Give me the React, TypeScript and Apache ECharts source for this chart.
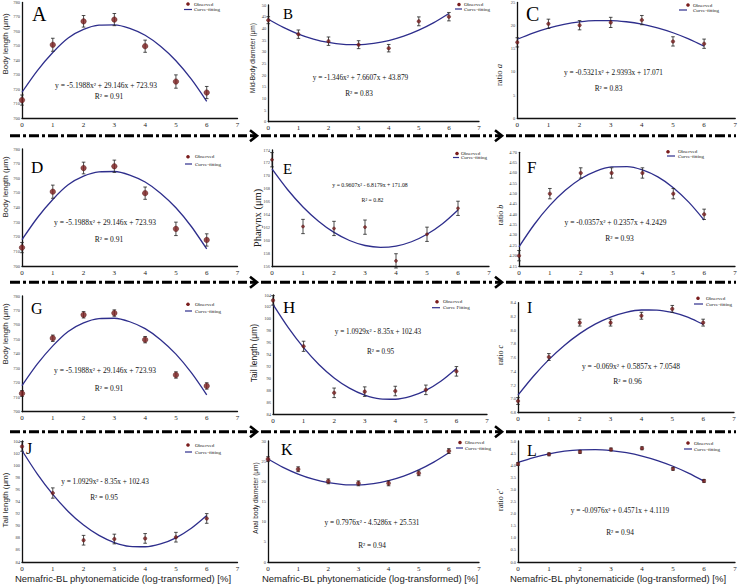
import React, { useEffect, useRef } from "react";
import * as echarts from "echarts";

// ---------- data ----------
const xValues = [0, 1, 2, 3, 4, 5, 6];
const xFit = [0, 0.5, 1, 1.5, 2, 2.5, 3, 3.5, 4, 4.5, 5, 5.5, 6];
const xTicks = [0, 1, 2, 3, 4, 5, 6, 7];

const bodyLengthTicks = [700, 710, 720, 730, 740, 750, 760, 770, 780];
const bodyLengthObs = [712.6, 750.8, 767.0, 768.2, 749.8, 725.4, 717.8];
const bodyLengthErr = [3.5, 4.5, 4.0, 4.2, 4.2, 4.6, 4.2];
const bodyLengthErrSmall = [2.0, 2.2, 2.2, 2.2, 2.2, 2.2, 2.2];
const bodyLengthFit = [718, 733, 745.5, 755.5, 761.4, 764.3, 764.6, 762.2, 757.4, 749.8, 739.8, 727.0, 711.7];

const midBodyTicks = [0, 5, 10, 15, 20, 25, 30, 35, 40, 45, 50];
const midBodyObs = [43.5, 37.5, 34.5, 33.0, 31.5, 43.0, 45.0];
const midBodyErr = [1.5, 1.8, 1.8, 1.7, 1.6, 1.9, 1.8];
const midBodyFit = [43.88, 40.39, 37.56, 35.42, 33.94, 33.14, 33.01, 33.56, 34.77, 36.66, 39.23, 42.46, 46.37];

const ratioATicks = [0, 5, 10, 15, 20, 25];
const ratioAObs = [16.4, 20.4, 20.1, 20.7, 21.2, 16.6, 16.1];
const ratioAErr = [1.0, 1.0, 1.0, 1.1, 1.0, 1.0, 1.0];
const ratioAFit = [17.07, 18.41, 19.48, 20.28, 20.82, 21.09, 21.1, 20.84, 20.32, 19.52, 18.47, 17.14, 15.55];

const pharynxTicks = [156, 158, 160, 162, 164, 166, 168, 170, 172, 174];
const pharynxObs = [172.5, 162.2, 161.9, 162.1, 156.9, 161.0, 165.0];
const pharynxErr = [1.1, 1.1, 1.1, 1.1, 1.1, 1.1, 1.1];
const pharynxFit = [171.08, 167.91, 165.22, 163.02, 161.29, 160.04, 159.27, 158.99, 159.18, 159.85, 161.01, 162.64, 164.76];

const ratioBTicks = [4.15, 4.2, 4.25, 4.3, 4.35, 4.4, 4.45, 4.5, 4.55, 4.6, 4.65, 4.7];
const ratioBObs = [4.2, 4.5, 4.6, 4.6, 4.6, 4.5, 4.4];
const ratioBErr = [0.025, 0.025, 0.025, 0.025, 0.025, 0.025, 0.025];
const ratioBFit = [4.243, 4.352, 4.443, 4.516, 4.572, 4.609, 4.629, 4.631, 4.615, 4.581, 4.529, 4.459, 4.372];

const tailTicks = [84, 86, 88, 90, 92, 94, 96, 98, 100, 102, 104];
const tailObs = [103.1, 95.4, 87.6, 87.8, 87.9, 88.1, 91.2];
const tailErr = [0.8, 0.85, 0.8, 0.8, 0.8, 0.8, 0.8];
const tailFit = [102.43, 98.53, 95.17, 92.36, 90.1, 88.39, 87.22, 86.59, 86.52, 86.99, 88.0, 89.57, 91.67];

const ratioCTicks = [6.8, 7.0, 7.2, 7.4, 7.6, 7.8, 8.0, 8.2, 8.4];
const ratioCObs = [6.97, 7.61, 8.11, 8.11, 8.21, 8.31, 8.11];
const ratioCErr = [0.05, 0.05, 0.05, 0.05, 0.05, 0.05, 0.05];
const ratioCFit = [7.055, 7.33, 7.572, 7.778, 7.95, 8.088, 8.191, 8.26, 8.294, 8.293, 8.258, 8.189, 8.085];

const analTicks = [0, 5, 10, 15, 20, 25, 30];
const analObs = [25.5, 23.0, 20.0, 19.5, 19.5, 22.0, 27.5];
const analErr = [0.6, 0.6, 0.6, 0.6, 0.6, 0.6, 0.6];
const analFit = [25.53, 23.47, 21.8, 20.53, 19.66, 19.2, 19.12, 19.45, 20.18, 21.3, 22.83, 24.75, 27.07];

const ratioCpTicks = [0, 0.5, 1, 1.5, 2, 2.5, 3, 3.5, 4, 4.5, 5];
const ratioCpObs = [4.05, 4.45, 4.55, 4.65, 4.7, 3.85, 3.35];
const ratioCpErr = [0.06, 0.06, 0.06, 0.06, 0.06, 0.06, 0.06];
const ratioCpFit = [4.112, 4.316, 4.471, 4.578, 4.636, 4.645, 4.605, 4.516, 4.379, 4.193, 3.957, 3.674, 3.341];

const xAxisTitle = "Nemafric-BL phytonematicide (log-transformed) [%]";

// ---------- layout / styles ----------
const SERIF = "Liberation Serif";
const SANS = "Liberation Sans";
const NAVY = "#2e2e8c";
const MAROON = "#7a1d1d";

type Panel = {
  id: string;
  obs: number[];
  err: number[];
  fit: number[];
  ticks: number[];
  dec: number;
  box: [number, number, number, number]; // x0, yTop, x7, yBottom
  sym: number;
  eq: string;
  r2: string;
  eqPos: [number, number];
  r2Pos: [number, number];
  eqSize: number;
  letterPos: [number, number, number];
  yName: string;
  yNamePos: [number, number, number, string];
  legend: [number, number, number, number, number, number]; // mx, my, tx, my2, lx1, lx2
  fitLabel: string;
};

const panels: Panel[] = [
  {
    id: "A", obs: bodyLengthObs, err: bodyLengthErr, fit: bodyLengthFit, ticks: bodyLengthTicks, dec: 0,
    box: [22, 2, 237.5, 118.3], sym: 5.5,
    eq: "y = -5.1988x² + 29.146x + 723.93", r2: "R² = 0.91", eqPos: [106, 85.7], r2Pos: [109, 96.7], eqSize: 7.5,
    letterPos: [32, 14, 20], yName: "Body length (μm)", yNamePos: [5, 44, 8, SANS],
    legend: [188, 4, 194, 9.5, 184, 192], fitLabel: "Curve-fitting",
  },
  {
    id: "B", obs: midBodyObs, err: midBodyErr, fit: midBodyFit, ticks: midBodyTicks, dec: 0,
    box: [268.3, 5, 479, 121.7], sym: 3.5,
    eq: "y = -1.346x² + 7.6607x + 43.879", r2: "R² = 0.83", eqPos: [360.5, 77.3], r2Pos: [359, 93.3], eqSize: 7.3,
    letterPos: [283, 13.5, 15], yName: "Mid-Body diameter (μm)", yNamePos: [252, 58, 6.5, SANS],
    legend: [459, 4.5, 464, 9, 455, 462], fitLabel: "Curve-fitting",
  },
  {
    id: "C", obs: ratioAObs, err: ratioAErr, fit: ratioAFit, ticks: ratioATicks, dec: 0,
    box: [517.3, 1.7, 737, 118.3], sym: 3.5,
    eq: "y = -0.5321x² + 2.9393x + 17.071", r2: "R² = 0.83", eqPos: [613.5, 72.7], r2Pos: [608.5, 88.3], eqSize: 7.3,
    letterPos: [526, 13.5, 20], yName: "ratio {i|a}", yNamePos: [499, 75, 8.5, SERIF],
    legend: [688, 5, 693, 10, 679, 687], fitLabel: "Curve-fitting",
  },
  {
    id: "D", obs: bodyLengthObs, err: bodyLengthErr, fit: bodyLengthFit, ticks: bodyLengthTicks, dec: 0,
    box: [22, 149, 237.5, 266], sym: 5.5,
    eq: "y = -5.1988x² + 29.146x + 723.93", r2: "R² = 0.91", eqPos: [105, 222.7], r2Pos: [109, 239.3], eqSize: 7.5,
    letterPos: [31, 167.5, 17], yName: "Body length (μm)", yNamePos: [5, 187, 8, SANS],
    legend: [188, 156.7, 195, 164, 185, 192], fitLabel: "Curve-fitting",
  },
  {
    id: "E", obs: pharynxObs, err: pharynxErr, fit: pharynxFit, ticks: pharynxTicks, dec: 0,
    box: [272, 150, 489, 266.7], sym: 3,
    eq: "y = 0.9607x² - 6.8179x + 171.08", r2: "R² = 0.82", eqPos: [370, 185], r2Pos: [372.5, 200], eqSize: 5.8,
    letterPos: [283, 169, 15], yName: "Pharynx (μm)", yNamePos: [257, 218, 10.5, SERIF],
    legend: [457, 153.5, 461, 157.5, 453, 459], fitLabel: "Curve-fitting",
  },
  {
    id: "F", obs: ratioBObs, err: ratioBErr, fit: ratioBFit, ticks: ratioBTicks, dec: 2,
    box: [519, 152.3, 735, 266], sym: 3.5,
    eq: "y = -0.0357x² + 0.2357x + 4.2429", r2: "R² = 0.93", eqPos: [615.5, 222.7], r2Pos: [619.5, 238.3], eqSize: 7.5,
    letterPos: [527, 167.3, 17], yName: "ratio {i|b}", yNamePos: [500, 215, 8, SERIF],
    legend: [668, 151.7, 678, 156, 667, 675], fitLabel: "Curve-fitting",
  },
  {
    id: "G", obs: bodyLengthObs, err: bodyLengthErrSmall, fit: bodyLengthFit, ticks: bodyLengthTicks, dec: 0,
    box: [22, 296, 237.5, 411.7], sym: 5.5,
    eq: "y = -5.1988x² + 29.146x + 723.93", r2: "R² = 0.91", eqPos: [105, 370], r2Pos: [109, 388.3], eqSize: 7.5,
    letterPos: [31, 308.3, 16], yName: "Body length (μm)", yNamePos: [5, 334, 8, SANS],
    legend: [188, 304.3, 195, 311, 185, 192], fitLabel: "Curve-fitting",
  },
  {
    id: "H", obs: tailObs, err: tailErr, fit: tailFit, ticks: tailTicks, dec: 0,
    box: [273, 295, 487, 414.3], sym: 3.5,
    eq: "y = 1.0929x² - 8.35x + 102.43", r2: "R² = 0.95", eqPos: [378, 332.3], r2Pos: [380.5, 351.7], eqSize: 7.2,
    letterPos: [283, 307.3, 17], yName: "Tail length (μm)", yNamePos: [254, 353, 8.5, SANS],
    legend: [437, 301.7, 443, 307.7, 432, 440], fitLabel: "Curve Fitting",
  },
  {
    id: "I", obs: ratioCObs, err: ratioCErr, fit: ratioCFit, ticks: ratioCTicks, dec: 1,
    box: [518, 302.7, 734, 412.7], sym: 3.5,
    eq: "y = -0.069x² + 0.5857x + 7.0548", r2: "R² = 0.96", eqPos: [631, 366], r2Pos: [627.5, 381.7], eqSize: 7.5,
    letterPos: [527, 307.3, 16], yName: "ratio {i|c}", yNamePos: [500, 355, 8, SERIF],
    legend: [698, 298.3, 706, 304, 694, 703], fitLabel: "Curve-fitting",
  },
  {
    id: "J", obs: tailObs, err: tailErr, fit: tailFit, ticks: tailTicks, dec: 0,
    box: [22, 441, 237.5, 562], sym: 3.5,
    eq: "y = 1.0929x² - 8.35x + 102.43", r2: "R² = 0.95", eqPos: [105, 481], r2Pos: [104, 497], eqSize: 7.3,
    letterPos: [26, 448, 16], yName: "Tail length (μm)", yNamePos: [5, 500, 8, SANS],
    legend: [188, 445, 195, 452, 185, 192], fitLabel: "Curve-fitting",
  },
  {
    id: "K", obs: analObs, err: analErr, fit: analFit, ticks: analTicks, dec: 0,
    box: [268, 441, 479, 562], sym: 4,
    eq: "y = 0.7976x² - 4.5286x + 25.531", r2: "R² = 0.94", eqPos: [372, 522], r2Pos: [372, 545], eqSize: 7.3,
    letterPos: [281, 449, 16], yName: "Anal body diameter (μm)", yNamePos: [255, 498, 6.5, SANS],
    legend: [460, 442.5, 465, 448, 456, 463], fitLabel: "Curve-fitting",
  },
  {
    id: "L", obs: ratioCpObs, err: ratioCpErr, fit: ratioCpFit, ticks: ratioCpTicks, dec: 1,
    box: [518, 441, 735, 562], sym: 3.5,
    eq: "y = -0.0976x² + 0.4571x + 4.1119", r2: "R² = 0.94", eqPos: [620, 510], r2Pos: [620, 532], eqSize: 7.3,
    letterPos: [527, 450, 16], yName: "ratio {i|c'}", yNamePos: [500, 500, 8, SERIF],
    legend: [688, 443, 694, 449, 684, 692], fitLabel: "Curve-fitting",
  },
];

const separatorRows = [135.7, 282.3, 431.7];
const xTitleCenters = [123, 370, 618];

function buildOption() {
  const grid: any[] = [];
  const xAxis: any[] = [];
  const yAxis: any[] = [];
  const series: any[] = [];
  const graphic: any[] = [];

  panels.forEach((p, i) => {
    const [x0, yTop, x7, yBot] = p.box;
    grid.push({ left: x0, top: yTop, width: x7 - x0, height: yBot - yTop, containLabel: false });
    xAxis.push({
      gridIndex: i, type: "value", min: xTicks[0], max: xTicks[xTicks.length - 1], interval: 1,
      axisLine: { show: true, onZero: false, lineStyle: { color: "#111", width: 1.3 } },
      axisTick: { show: false },
      splitLine: { show: false },
      axisLabel: { fontSize: 7, fontFamily: SERIF, color: "#222", margin: 3 },
    });
    const tmin = p.ticks[0];
    const tmax = p.ticks[p.ticks.length - 1];
    const step = p.ticks[1] - p.ticks[0];
    yAxis.push({
      gridIndex: i, type: "value", min: tmin, max: tmax, interval: step,
      axisLine: { show: true, onZero: false, lineStyle: { color: "#111", width: 1.3 } },
      axisTick: { show: false },
      splitLine: { show: false },
      axisLabel: {
        fontSize: 4.5, fontFamily: SERIF, color: "#444", margin: 2,
        formatter: (v: number) => v.toFixed(p.dec),
      },
    });
    series.push({
      type: "line", xAxisIndex: i, yAxisIndex: i, smooth: 0.3, symbol: "none",
      lineStyle: { color: NAVY, width: 1.3 }, clip: false, z: 2,
      data: xFit.map((x, k) => [x, p.fit[k]]),
    });
    series.push({
      type: "custom", xAxisIndex: i, yAxisIndex: i, clip: false, z: 3,
      data: xValues.map((x, k) => [x, p.obs[k] - p.err[k], p.obs[k] + p.err[k]]),
      encode: { x: 0, y: [1, 2] },
      renderItem: (params: any, api: any) => {
        const x = api.value(0);
        const lo = api.coord([x, api.value(1)]);
        const hi = api.coord([x, api.value(2)]);
        const st = { stroke: "#222", lineWidth: 0.8 };
        return {
          type: "group",
          children: [
            { type: "line", shape: { x1: lo[0], y1: lo[1], x2: hi[0], y2: hi[1] }, style: st },
            { type: "line", shape: { x1: lo[0] - 1.8, y1: lo[1], x2: lo[0] + 1.8, y2: lo[1] }, style: st },
            { type: "line", shape: { x1: hi[0] - 1.8, y1: hi[1], x2: hi[0] + 1.8, y2: hi[1] }, style: st },
          ],
        };
      },
    });
    series.push({
      type: "scatter", xAxisIndex: i, yAxisIndex: i, symbol: "circle", symbolSize: p.sym, clip: false, z: 4,
      itemStyle: { color: MAROON, borderColor: "#4a0f0f", borderWidth: 0.5 },
      data: xValues.map((x, k) => [x, p.obs[k]]),
    });

    // panel letter
    graphic.push({
      type: "text", x: p.letterPos[0], y: p.letterPos[1],
      style: { text: p.id, fontSize: p.letterPos[2], fontFamily: SERIF, fill: "#000", align: "left", verticalAlign: "middle" },
    });
    // equation and R2
    graphic.push({
      type: "text", x: p.eqPos[0], y: p.eqPos[1],
      style: { text: p.eq, fontSize: p.eqSize, fontFamily: SERIF, fill: "#111", align: "center", verticalAlign: "middle" },
    });
    graphic.push({
      type: "text", x: p.r2Pos[0], y: p.r2Pos[1],
      style: { text: p.r2, fontSize: p.eqSize, fontFamily: SERIF, fill: "#111", align: "center", verticalAlign: "middle" },
    });
    // y axis name
    const [nx, ny, nf, nfam] = p.yNamePos;
    graphic.push({
      type: "text", x: nx, y: ny, rotation: Math.PI / 2,
      style: {
        text: p.yName, fontSize: nf, fontFamily: nfam, fill: "#222", align: "center", verticalAlign: "middle",
        rich: { i: { fontSize: nf, fontFamily: nfam, fontStyle: "italic", fill: "#222" } },
      },
    });
    // legend
    const [mx, my, tx, my2, lx1, lx2] = p.legend;
    graphic.push({ type: "circle", shape: { cx: mx, cy: my, r: 1.8 }, style: { fill: MAROON } });
    graphic.push({
      type: "text", x: tx, y: my,
      style: { text: "Observed", fontSize: 5, fontFamily: SERIF, fill: "#222", align: "left", verticalAlign: "middle" },
    });
    graphic.push({ type: "line", shape: { x1: lx1, y1: my2, x2: lx2, y2: my2 }, style: { stroke: NAVY, lineWidth: 1.2 } });
    graphic.push({
      type: "text", x: tx, y: my2,
      style: { text: p.fitLabel, fontSize: 5, fontFamily: SERIF, fill: "#222", align: "left", verticalAlign: "middle" },
    });
  });

  // separators
  separatorRows.forEach((y) => {
    const segs = [
      [10, 247],
      [261, 492],
      [506, 736],
    ];
    segs.forEach(([a, b]) => {
      graphic.push({
        type: "line", shape: { x1: a, y1: y, x2: b, y2: y },
        style: { stroke: "#000", lineWidth: 3, lineDash: [10, 3, 3, 3] },
      });
    });
    [250, 495].forEach((ax) => {
      graphic.push({
        type: "polyline", shape: { points: [[ax, y - 5.5], [ax + 7, y], [ax, y + 5.5]] },
        style: { stroke: "#000", lineWidth: 2.6, fill: "none" },
      });
      graphic.push({
        type: "line", shape: { x1: ax, y1: y, x2: ax + 6, y2: y },
        style: { stroke: "#000", lineWidth: 3 },
      });
    });
  });

  // x axis titles
  xTitleCenters.forEach((cx) => {
    graphic.push({
      type: "text", x: cx, y: 578,
      style: { text: xAxisTitle, fontSize: 9.5, fontFamily: SANS, fill: "#222", align: "center", verticalAlign: "middle" },
    });
  });

  return {
    animation: false,
    backgroundColor: "#fff",
    grid, xAxis, yAxis, series, graphic,
  };
}

export default function App() {
  const ref = useRef<HTMLDivElement>(null);
  useEffect(() => {
    if (!ref.current) return;
    const chart = echarts.init(ref.current, undefined, { renderer: "svg" });
    chart.setOption(buildOption() as any);
    return () => chart.dispose();
  }, []);
  return (
    <div
      ref={ref}
      style={{ position: "fixed", left: 0, top: 0, width: 740, height: 584, background: "#fff" }}
    />
  );
}
